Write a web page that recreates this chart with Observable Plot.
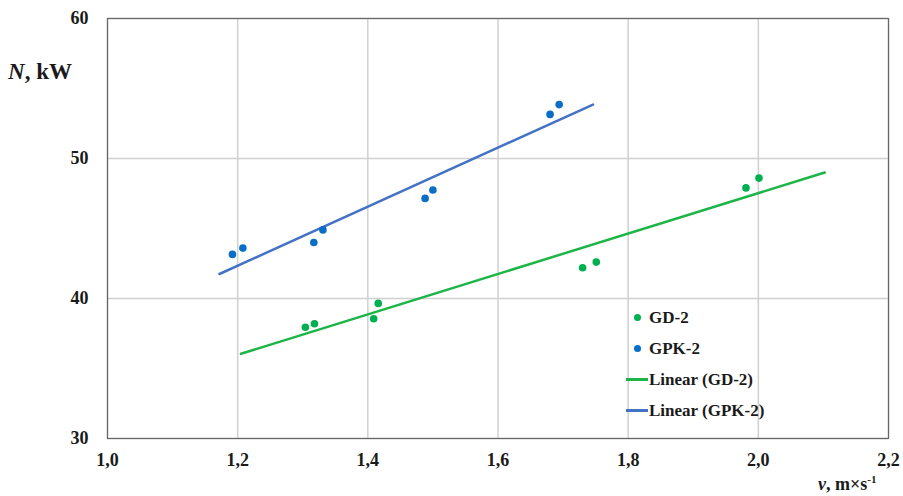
<!DOCTYPE html>
<html>
<head>
<meta charset="utf-8">
<script src="https://cdn.jsdelivr.net/npm/d3@7"></script>
<script src="https://cdn.jsdelivr.net/npm/@observablehq/plot@0.6"></script>
<style>
  html, body { margin: 0; padding: 0; background: #fff; }
  #wrap { position: relative; width: 903px; height: 496px; font-family: 'Liberation Serif', 'DejaVu Serif', 'Noto Serif', Georgia, serif; }
  .leg { position: absolute; left: 626px; top: 302px; font-weight: bold; font-size: 17px; color: #1a1a1a; }
  .leg div { height: 31px; display: flex; align-items: center; }
  .leg .sw { width: 22px; display: flex; justify-content: center; align-items: center; margin-right: 1px; }
  .leg .dot { width: 7px; height: 7px; border-radius: 50%; }
  .leg .ln { width: 22px; height: 2.5px; }
</style>
</head>
<body>
<div id="wrap"></div>
<script>
// GD-2 measured points
const gdV = [1.304, 1.318, 1.409, 1.416, 1.730, 1.751, 1.981, 2.001];
const gdN = [37.95, 38.2, 38.55, 39.65, 42.2, 42.6, 47.9, 48.6];
// GPK-2 measured points
const gpkV = [1.192, 1.208, 1.317, 1.331, 1.488, 1.500, 1.680, 1.694];
const gpkN = [43.15, 43.6, 44.0, 44.9, 47.15, 47.75, 53.15, 53.85];
// Linear trend lines (endpoints as drawn)
const gdTrendV = [1.205, 2.102];
const gdTrendN = [36.05, 49.0];
const gpkTrendV = [1.172, 1.746];
const gpkTrendN = [41.75, 53.85];
// Axis ticks
const xTicks = [1.0, 1.2, 1.4, 1.6, 1.8, 2.0, 2.2];
const yTicks = [30, 40, 50, 60];

const green = "#00b050", greenLine = "#1db547", blue = "#0a6ec7", blueLine = "#4472c4";
const serif = "'Liberation Serif', 'DejaVu Serif', 'Noto Serif', Georgia, serif";

const gd = gdV.map((v, i) => ({v, n: gdN[i]}));
const gpk = gpkV.map((v, i) => ({v, n: gpkN[i]}));
const gdT = gdTrendV.map((v, i) => ({v, n: gdTrendN[i]}));
const gpkT = gpkTrendV.map((v, i) => ({v, n: gpkTrendN[i]}));
const fmt = d => d.toFixed(1).replace(".", ",");

const chart = Plot.plot({
  width: 903,
  height: 496,
  marginLeft: 107,
  marginRight: 15,
  marginTop: 18,
  marginBottom: 58,
  style: {fontFamily: serif, fontSize: "18px", fontWeight: "bold", color: "#1a1a1a", background: "#fff"},
  x: {domain: [1.0, 2.2], ticks: xTicks, tickFormat: fmt, tickSize: 0, tickPadding: 15, label: null},
  y: {domain: [30, 60], ticks: yTicks, tickSize: 0, tickPadding: 19, label: null},
  marks: [
    Plot.gridX(xTicks, {stroke: "#d0d0d0", strokeOpacity: 1, strokeWidth: 1.5}),
    Plot.gridY(yTicks, {stroke: "#d0d0d0", strokeOpacity: 1, strokeWidth: 1.5}),
    Plot.frame({stroke: "#666", strokeWidth: 1.2}),
    Plot.line(gdT, {x: "v", y: "n", stroke: greenLine, strokeWidth: 2.5}),
    Plot.line(gpkT, {x: "v", y: "n", stroke: blueLine, strokeWidth: 2.5}),
    Plot.dot(gd, {x: "v", y: "n", r: 3.8, fill: green, stroke: "none"}),
    Plot.dot(gpk, {x: "v", y: "n", r: 3.8, fill: blue, stroke: "none"})
  ]
});
document.getElementById("wrap").appendChild(chart);
d3.select(chart).selectAll("text")
  .attr("font-family", serif).attr("font-size", 18).attr("font-weight", "bold");

// Axis titles with italic variable and superscript
const svg = d3.select(chart);
const yl = svg.append("text").attr("x", 8).attr("y", 79).attr("text-anchor", "start")
  .attr("font-family", serif).attr("font-size", 23).attr("font-weight", "bold").attr("fill", "#1a1a1a");
yl.append("tspan").attr("font-style", "italic").text("N");
yl.append("tspan").text(", kW");
const xl = svg.append("text").attr("x", 818).attr("y", 490).attr("text-anchor", "start")
  .attr("font-family", serif).attr("font-size", 18).attr("font-weight", "bold").attr("fill", "#1a1a1a");
xl.append("tspan").attr("font-style", "italic").text("v");
xl.append("tspan").text(", m×s");
xl.append("tspan").attr("dy", -7).attr("font-size", 11).text("-1");

// Legend
const leg = document.createElement("div");
leg.className = "leg";
leg.innerHTML = `
  <div><span class="sw"><span class="dot" style="background:${green}"></span></span>GD-2</div>
  <div><span class="sw"><span class="dot" style="background:${blue}"></span></span>GPK-2</div>
  <div><span class="sw"><span class="ln" style="background:${greenLine}"></span></span>Linear (GD-2)</div>
  <div><span class="sw"><span class="ln" style="background:${blueLine}"></span></span>Linear (GPK-2)</div>`;
document.getElementById("wrap").appendChild(leg);
</script>
</body>
</html>
